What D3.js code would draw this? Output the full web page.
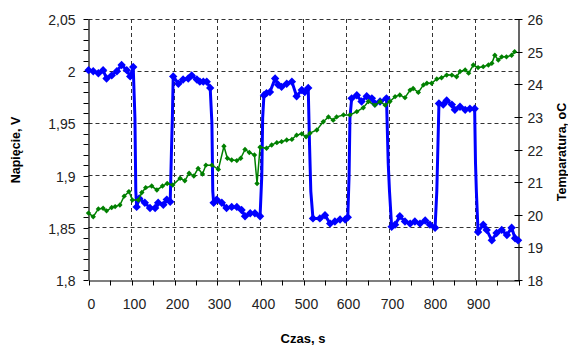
<!DOCTYPE html>
<html>
<head>
<meta charset="utf-8">
<script src="https://cdn.jsdelivr.net/npm/d3@7"></script>
<style>
  body { margin: 0; background: #fff; }
  svg { display: block; font-family: "Liberation Sans", Arial, sans-serif; }
  .tick text { fill: #222; font-size: 14px; }
  .axis-title { font-weight: bold; font-size: 12.5px; fill: #000; }
</style>
</head>
<body>
<div id="chart"></div>
<script>
// time [s], voltage [V] - measured points (with markers)
const voltage = [
  [0, 2.001], [11, 2.000], [23, 1.998], [34, 2.001], [42, 1.993], [54, 1.996], [66, 2.000], [77, 2.006], [89, 2.001], [97, 1.995], [104, 2.004],
  [112, 1.870], [118, 1.878], [131, 1.874], [143, 1.869], [155, 1.869], [162, 1.874], [174, 1.872], [182, 1.877], [190, 1.875],
  [197, 1.995], [209, 1.988], [220, 1.992], [232, 1.993], [240, 1.996], [252, 1.992], [259, 1.990], [267, 1.990], [275, 1.990], [283, 1.984],
  [291, 1.874], [298, 1.877], [310, 1.874], [321, 1.869], [333, 1.870], [345, 1.870], [356, 1.867], [364, 1.861], [376, 1.864], [387, 1.864], [399, 1.861],
  [408, 1.977], [414, 1.979], [422, 1.980], [434, 1.993], [441, 1.987], [449, 1.985], [461, 1.988], [473, 1.990], [484, 1.976], [496, 1.982], [503, 1.980], [511, 1.984],
  [522, 1.859], [538, 1.859], [550, 1.862], [562, 1.854], [573, 1.856], [585, 1.858], [597, 1.858], [603, 1.860],
  [612, 1.974], [624, 1.977], [635, 1.971], [647, 1.976], [659, 1.974], [666, 1.969], [678, 1.971], [693, 1.974],
  [705, 1.851], [713, 1.853], [724, 1.861], [736, 1.856], [748, 1.854], [759, 1.856], [771, 1.854], [783, 1.857], [794, 1.853], [806, 1.850],
  [815, 1.969], [825, 1.968], [833, 1.972], [845, 1.968], [852, 1.963], [864, 1.966], [876, 1.963], [887, 1.964], [898, 1.964],
  [906, 1.846], [918, 1.853], [926, 1.848], [938, 1.838], [949, 1.845], [961, 1.848], [973, 1.843], [984, 1.850], [992, 1.840], [999, 1.838]
];

// intermediate points on the switching edges (line only)
const voltageSteps = [
  [108, 1.955], [110, 1.885],
  [193, 1.925], [195, 1.955],
  [287, 1.950], [289, 1.885],
  [403, 1.900], [405, 1.955],
  [514, 1.930], [517, 1.885],
  [606, 1.900], [608, 1.955],
  [697, 1.912], [700, 1.885],
  [810, 1.885], [812, 1.918],
  [900, 1.912], [902, 1.885]
];

// time [s], temperature [oC]
const temperature = [
  [0, 20.05], [11, 19.94], [23, 20.18], [34, 20.20], [42, 20.12], [54, 20.22], [62, 20.25], [73, 20.30], [83, 20.57], [94, 20.71],
  [102, 20.45], [116, 20.45], [124, 20.68], [133, 20.83], [147, 20.88], [159, 20.76], [172, 20.88], [183, 20.96], [196, 20.91],
  [213, 21.12], [224, 21.04], [234, 21.27], [245, 21.19], [255, 21.42], [265, 21.25], [273, 21.52], [287, 21.52], [302, 21.39],
  [315, 22.10], [323, 21.73], [333, 21.68], [345, 21.66], [354, 21.73], [364, 22.00], [374, 21.91], [386, 21.83], [392, 20.96], [399, 22.07],
  [414, 22.04], [426, 22.14], [438, 22.21], [449, 22.24], [461, 22.29], [473, 22.31], [484, 22.44], [496, 22.48],
  [506, 22.39], [515, 22.50], [531, 22.60], [546, 22.85], [558, 23.00], [569, 22.90], [577, 23.00], [593, 23.06],
  [608, 23.06], [624, 23.16], [639, 23.28], [651, 23.47], [666, 23.36], [678, 23.47], [690, 23.36],
  [701, 23.47], [713, 23.62], [724, 23.67], [736, 23.59], [748, 23.82], [755, 23.87], [767, 23.75], [779, 23.98], [787, 24.03], [798, 24.03],
  [810, 24.16], [821, 24.20], [833, 24.28], [845, 24.28], [856, 24.23], [864, 24.39], [876, 24.44], [884, 24.34], [895, 24.59],
  [906, 24.51], [918, 24.54], [930, 24.59], [938, 24.64], [945, 24.89], [953, 24.74], [961, 24.84], [972, 24.84], [984, 24.89], [991, 25.00]
];

const xTicks = d3.range(0, 1001, 50);
const xLabels = [0, 100, 200, 300, 400, 500, 600, 700, 800, 900];
const vTicks = d3.range(180, 206, 1).map(d => d / 100);
const vLabels = [1.8, 1.85, 1.9, 1.95, 2, 2.05];
const tTicks = d3.range(18, 27, 1);

const W = 568, H = 347;
const plotLeft = 88.5, plotRight = 518.5, plotTop = 19, plotBottom = 280;

const BLUE = "#0000ff";
const GREEN = "#008000";

const svg = d3.select("#chart").append("svg").attr("width", W).attr("height", H);

const x = d3.scaleLinear().domain([0, 1000]).range([plotLeft, plotRight]);
const yV = d3.scaleLinear().domain([1.8, 2.05]).range([plotBottom, plotTop]);
const yT = d3.scaleLinear().domain([18, 26]).range([plotBottom, plotTop]);

const px = v => Math.round(v - 0.5) + 0.5;

////////////////////////////////////////////////////////////////////////////////////
// grid

const grid = svg.append("g").attr("stroke", "#333").attr("stroke-dasharray", "4,3").attr("stroke-width", 1);
grid.selectAll("line.v")
  .data(xLabels.filter(d => d > 0))
  .enter()
  .append("line")
  .attr("x1", d => px(x(d))).attr("x2", d => px(x(d)))
  .attr("y1", plotTop).attr("y2", plotBottom);
grid.selectAll("line.h")
  .data(vLabels.filter(d => d > 1.8))
  .enter()
  .append("line")
  .attr("x1", plotLeft).attr("x2", plotRight)
  .attr("y1", d => px(yV(d))).attr("y2", d => px(yV(d)));

////////////////////////////////////////////////////////////////////////////////////
// axes

const fmt = d => String(+d.toFixed(2)).replace(".", ",");
const isMajorV = d => vLabels.some(m => Math.abs(m - d) < 1e-6);

const xAxis = svg.append("g")
  .attr("transform", `translate(0,${px(plotBottom)})`)
  .call(d3.axisBottom(x).tickValues(xTicks).tickSize(5).tickSizeOuter(0)
    .tickFormat(d => (xLabels.includes(d) ? d : "")));
xAxis.selectAll(".tick text").attr("dy", "1.45em").attr("dx", 2);

const yAxisL = svg.append("g")
  .attr("transform", `translate(${plotLeft},0)`)
  .call(d3.axisLeft(yV).tickValues(vTicks).tickSize(5).tickSizeOuter(0)
    .tickFormat(d => (isMajorV(d) ? fmt(d) : "")));
yAxisL.selectAll(".tick text").attr("x", -13).attr("dy", "0.36em");

const yAxisR = svg.append("g")
  .attr("transform", `translate(${plotRight},0)`)
  .call(d3.axisRight(yT).tickValues(tTicks).tickSize(4).tickSizeOuter(0).tickFormat(d => d));
yAxisR.selectAll(".tick line").attr("x1", -4).attr("x2", 4);
yAxisR.selectAll(".tick text").attr("x", 9).attr("dy", "0.36em");

svg.selectAll(".domain").attr("stroke", "#000").attr("stroke-width", 1.2);
svg.selectAll(".tick line").attr("stroke", "#000");
svg.selectAll(".tick").each(function () {
  const t = d3.select(this).attr("transform");
  const m = /translate\(([-\d.]+),([-\d.]+)\)/.exec(t);
  if (m) d3.select(this).attr("transform", `translate(${+m[1] === 0 ? 0 : px(+m[1])},${+m[2] === 0 ? 0 : px(+m[2])})`);
});

////////////////////////////////////////////////////////////////////////////////////
// series

const diamond = r => `M0,${-r}L${r},0L0,${r}L${-r},0Z`;

const voltageLine = voltage.concat(voltageSteps).sort((a, b) => a[0] - b[0]);
svg.append("path")
  .datum(voltageLine)
  .attr("fill", "none")
  .attr("stroke", BLUE)
  .attr("stroke-width", 3)
  .attr("stroke-linejoin", "round")
  .attr("d", d3.line().x(d => x(d[0])).y(d => yV(d[1])));
svg.append("g").selectAll("path")
  .data(voltage)
  .enter()
  .append("path")
  .attr("transform", d => `translate(${x(d[0])},${yV(d[1])})`)
  .attr("d", diamond(4.2))
  .attr("fill", BLUE);

svg.append("path")
  .datum(temperature)
  .attr("fill", "none")
  .attr("stroke", GREEN)
  .attr("stroke-width", 1.5)
  .attr("d", d3.line().x(d => x(d[0])).y(d => yT(d[1])));
svg.append("g").selectAll("path")
  .data(temperature)
  .enter()
  .append("path")
  .attr("transform", d => `translate(${x(d[0])},${yT(d[1])})`)
  .attr("d", diamond(2.7))
  .attr("fill", GREEN);

////////////////////////////////////////////////////////////////////////////////////
// titles

svg.append("text")
  .attr("class", "axis-title")
  .attr("transform", `translate(20,150)rotate(-90)`)
  .attr("text-anchor", "middle")
  .text("Napięcie, V");

svg.append("text")
  .attr("class", "axis-title")
  .attr("transform", `translate(566,152)rotate(-90)`)
  .attr("text-anchor", "middle")
  .text("Temparatura, oC");

svg.append("text")
  .attr("class", "axis-title")
  .attr("x", 303)
  .attr("y", 343)
  .attr("text-anchor", "middle")
  .style("font-size", "13px")
  .text("Czas, s");
</script>
</body>
</html>
